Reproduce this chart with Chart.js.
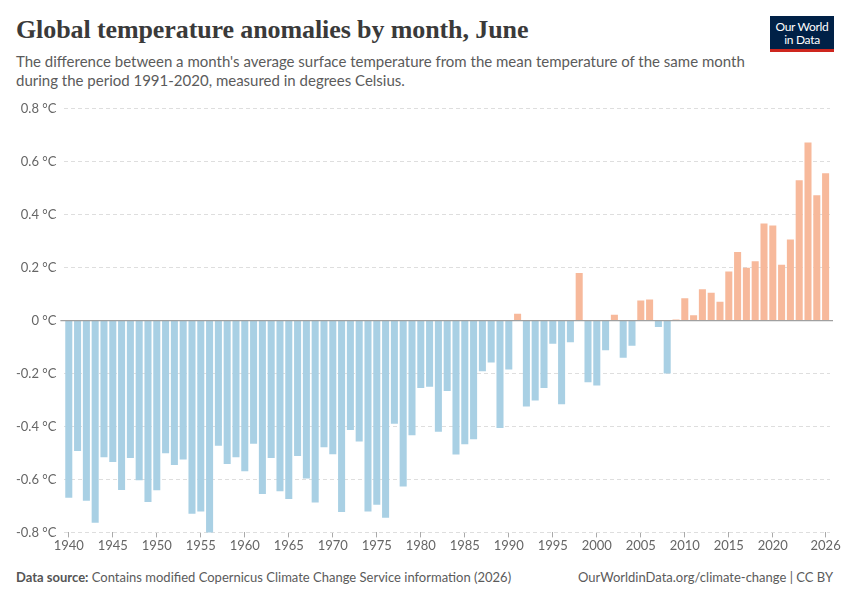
<!DOCTYPE html>
<html>
<head>
<meta charset="utf-8">
<script src="https://cdn.jsdelivr.net/npm/chart.js@4.4.0/dist/chart.umd.min.js"></script>
<style>
  body { margin: 0; width: 850px; height: 600px; background: #fff; position: relative; font-family: Lato, sans-serif; overflow: hidden; }
  #title { position: absolute; left: 16px; top: 15px; font-family: "Liberation Serif", "DejaVu Serif", serif; font-weight: bold; font-size: 26px; color: #3a3a3a; letter-spacing: -0.1px; }
  #subtitle { position: absolute; left: 16px; top: 52px; width: 740px; font-size: 15px; line-height: 19px; color: #5b5b5b; }
  #logo { position: absolute; left: 770px; top: 16px; width: 64px; height: 36px; background: #002147; border-bottom: 3px solid #ce261e; color: #fff; font-size: 12px; line-height: 13px; text-align: center; box-sizing: border-box; padding-top: 4px; letter-spacing: -0.3px; }
  #wrap { position: absolute; left: 0; top: 93px; width: 850px; height: 462px; }
  #footer { position: absolute; left: 16px; right: 17px; top: 569px; font-size: 13px; color: #5b5b5b; }
  #footer b { font-weight: bold; color: #555; }
  #footer .right { position: absolute; right: 0; top: 0; }
</style>
</head>
<body>
<div id="title">Global temperature anomalies by month, June</div>
<div id="subtitle">The difference between a month's average surface temperature from the mean temperature of the same month during the period 1991-2020, measured in degrees Celsius.</div>
<div id="logo">Our World<br>in Data</div>
<div id="wrap"><canvas id="temp-chart"></canvas></div>
<div id="footer"><span><b>Data source:</b> Contains modified Copernicus Climate Change Service information (2026)</span><span class="right">OurWorldinData.org/climate-change | CC BY</span></div>

<script>
/* Data */
let years = [
    1940, 1941, 1942, 1943, 1944, 1945, 1946, 1947, 1948, 1949,
    1950, 1951, 1952, 1953, 1954, 1955, 1956, 1957, 1958, 1959,
    1960, 1961, 1962, 1963, 1964, 1965, 1966, 1967, 1968, 1969,
    1970, 1971, 1972, 1973, 1974, 1975, 1976, 1977, 1978, 1979,
    1980, 1981, 1982, 1983, 1984, 1985, 1986, 1987, 1988, 1989,
    1990, 1991, 1992, 1993, 1994, 1995, 1996, 1997, 1998, 1999,
    2000, 2001, 2002, 2003, 2004, 2005, 2006, 2007, 2008, 2009,
    2010, 2011, 2012, 2013, 2014, 2015, 2016, 2017, 2018, 2019,
    2020, 2021, 2022, 2023, 2024, 2025, 2026
]

let anomalies = [
    -0.669, -0.493, -0.680, -0.764, -0.516, -0.534, -0.640, -0.519, -0.603, -0.685,
    -0.641, -0.501, -0.545, -0.525, -0.730, -0.721, -0.805, -0.473, -0.542, -0.516,
    -0.569, -0.465, -0.655, -0.519, -0.645, -0.674, -0.511, -0.596, -0.687, -0.478,
    -0.505, -0.723, -0.413, -0.457, -0.721, -0.696, -0.745, -0.390, -0.627, -0.433,
    -0.255, -0.250, -0.420, -0.266, -0.506, -0.467, -0.448, -0.191, -0.158, -0.406,
    -0.185, 0.026, -0.324, -0.302, -0.255, -0.087, -0.316, -0.082, 0.180, -0.233,
    -0.245, -0.112, 0.022, -0.140, -0.095, 0.076, 0.080, -0.024, -0.200, 0.004,
    0.084, 0.020, 0.118, 0.105, 0.071, 0.185, 0.259, 0.200, 0.224, 0.367,
    0.359, 0.211, 0.306, 0.530, 0.673, 0.473, 0.557
]

// Years that get a label on the x axis
let labelledYears = [1940, 1945, 1950, 1955, 1960, 1965, 1970, 1975, 1980, 1985, 1990, 1995, 2000, 2005, 2010, 2015, 2020, 2026]

let warmColor = '#f7b99b'
let coolColor = '#a9d0e4'

Chart.defaults.font.family = 'Lato, sans-serif'
Chart.defaults.color = '#666'

// Solid line at zero, drawn over the bars
let zeroLine = {
    id: 'zeroLine',
    afterDatasetsDraw(chart) {
        let ctx = chart.ctx
        let area = chart.chartArea
        let y = chart.scales.y.getPixelForValue(0)
        ctx.save()
        ctx.strokeStyle = '#a0a0a0'
        ctx.lineWidth = 1.2
        ctx.beginPath()
        ctx.moveTo(area.left - 4, y)
        ctx.lineTo(area.right + 3, y)
        ctx.stroke()
        ctx.restore()
    }
}

let ctx = document.querySelector('#temp-chart').getContext('2d')

let tempChart = new Chart(ctx, {
    type: 'bar',
    data: {
        labels: years,
        datasets: [{
            data: anomalies,
            backgroundColor: anomalies.map(v => v >= 0 ? warmColor : coolColor),
            barPercentage: 0.8,
            categoryPercentage: 1.0
        }]
    },
    options: {
        responsive: true,
        maintainAspectRatio: false,
        animation: false,
        layout: { padding: { left: 8, right: 20, top: 4, bottom: 0 } },
        plugins: {
            legend: { display: false },
            tooltip: { enabled: false }
        },
        scales: {
            x: {
                grid: {
                    offset: false,
                    drawOnChartArea: false,
                    tickLength: 5,
                    color: c => labelledYears.includes(years[c.index]) ? '#aaa' : 'rgba(0,0,0,0)'
                },
                border: { display: false },
                ticks: {
                    autoSkip: false,
                    maxRotation: 0,
                    padding: 1,
                    font: { size: 13 },
                    callback: function(value, index) {
                        let year = years[index]
                        return labelledYears.includes(year) ? String(year) : ''
                    }
                }
            },
            y: {
                min: -0.8,
                max: 0.8,
                grid: {
                    color: '#dedede',
                    drawTicks: false
                },
                border: { display: false, dash: [4, 3] },
                ticks: {
                    stepSize: 0.2,
                    padding: 8,
                    font: { size: 13 },
                    callback: v => (Math.abs(v) < 1e-9 ? '0' : Number(v.toFixed(1)).toString()) + ' °C'
                }
            }
        }
    },
    plugins: [zeroLine]
})
</script>
</body>
</html>
